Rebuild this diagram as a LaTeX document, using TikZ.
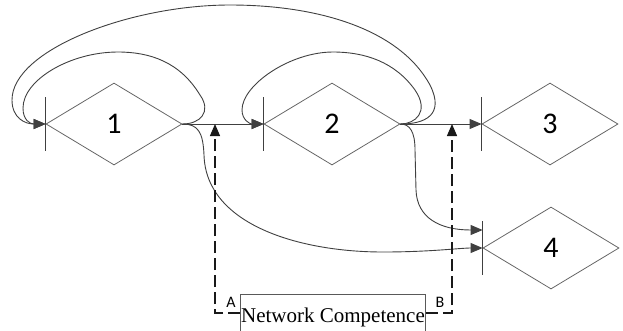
\documentclass[tikz,border=0pt]{standalone}
\usepackage{fontspec}
\setmainfont{Liberation Serif}
\newfontfamily\digitfont{Carlito}
\usetikzlibrary{arrows.meta,shapes.geometric,calc}
\begin{document}
\begin{tikzpicture}[x=1pt,y=-1pt,
  line width=0.9pt,
  conn/.style={draw=black!75, -{Triangle[length=12pt,width=10pt]}},
  dconn/.style={draw=black!90, line width=1.3pt, dash pattern=on 12pt off 5pt, -{Triangle[length=12pt,width=10pt]}},
  stage/.style={diamond, draw=black!60, line width=0.8pt, minimum width=136pt, minimum height=82pt, inner sep=0pt, font=\digitfont\fontsize{30}{30}\selectfont},
  tick/.style={draw=black!75},
  ncbox/.style={rectangle, draw=black!65, line width=0.8pt, minimum width=185pt, minimum height=46pt, inner sep=0pt, font=\fontsize{21}{21}\selectfont},
  ablabel/.style={font=\digitfont\fontsize{16}{16}\selectfont, inner sep=0pt}
]
\clip (0,0) rectangle (623,330);
\node[stage] (D1) at (114,124) {1};
\node[stage] (D2) at (332,124) {2};
\node[stage] (D3) at (550,124) {3};
\node[stage] (D4) at (551,248) {4};
\foreach \d in {D1,D2,D3,D4}{
  \draw[tick] ([yshift=27pt]\d.west) -- ([yshift=-27pt]\d.west);
}
% straight connectors
\draw[conn] (D1.east) -- (D2.west);
\draw[conn] (D2.east) -- (D3.west);
% inner loop over 1
\draw[conn] (D1.east) .. controls (200,124) and (212,112) .. (200,95)
  .. controls (180,62) and (150,52) .. (118,52)
  .. controls (70,52) and (23,80) .. (23,108)
  .. controls (23,120) and (30,124) .. (D1.west);
% outer loop from 2 to 1
\draw[conn] (D2.east) .. controls (425,124) and (445,115) .. (430,85)
  .. controls (400,30) and (320,5) .. (230,5)
  .. controls (130,5) and (12,50) .. (12,100)
  .. controls (12,118) and (25,124) .. (D1.west);
% inner loop over 2
\draw[conn] (D2.east) .. controls (415,124) and (430,112) .. (415,90)
  .. controls (395,62) and (365,52) .. (333,52)
  .. controls (290,52) and (242,85) .. (242,110)
  .. controls (242,120) and (250,124) .. (D2.west);
% 1 to 4
\draw[conn] (D1.east) .. controls (198,124) and (203,132) .. (204,155)
  .. controls (206,225) and (300,252) .. (383,252)
  .. controls (430,252) and (460,248) .. (D4.west);
% 2 to 4
\coordinate (D4in) at ([yshift=18pt]D4.west);
\draw[conn] (D2.east) .. controls (410,124) and (415,132) .. (415,150)
  -- (416,190) .. controls (417,218) and (440,230) .. (D4in);
% network competence
\node[ncbox] (NC) at (333,317) {\raisebox{2pt}{Network Competence}};
\coordinate (A1) at (215,124);
\coordinate (B1) at (452,124);
\draw[dconn] ([yshift=4pt]NC.west) -| (A1);
\draw[dconn] ([yshift=4pt]NC.east) -| (B1);
\node[ablabel] (LA) at (231,302) {A};
\node[ablabel] (LB) at (440,302) {B};
\end{tikzpicture}
\end{document}
